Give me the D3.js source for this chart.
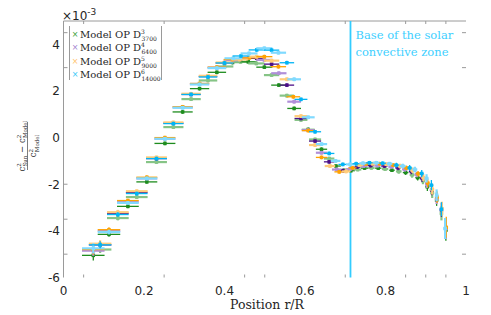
<!DOCTYPE html>
<html>
<head>
<meta charset="utf-8">
<script src="https://cdn.jsdelivr.net/npm/d3@7"></script>
<style>
  body { margin: 0; background: #fff; }
  svg { display: block; }
  .serif { font-family: "DejaVu Serif", "Liberation Serif", serif; }
  .sans { font-family: "DejaVu Sans", sans-serif; }
</style>
</head>
<body>
<div id="viz-container"></div>
<script>
let w = 491;
let h = 315;

///////////////////////////////////////////////////////////////////////////
// DATA (r/R positions, relative sound-speed difference in units of 1e-3)

let legendLabels = [
  ["3", "3700"],
  ["4", "6400"],
  ["5", "9000"],
  ["6", "14000"]
];

let lowR = [0.074,0.091,0.113,0.135,0.160,0.182,0.207,0.231,0.252,0.273,0.296,0.317,0.338,0.359,0.381,0.400];

let greenR = lowR.concat([0.420,0.440,0.459,0.479,0.499,0.517,0.535,0.555,0.573,0.590,
  0.608,0.625,0.641,0.660,0.677,0.697,0.714,0.731,0.748,0.765,
  0.782,0.799,0.816,0.833,0.850,0.866,0.880,0.893,0.904,0.916,
  0.927,0.939,0.950]);
let greenY = [-5.05,-4.8,-4.15,-3.45,-2.95,-2.55,-1.9,-1.05,-0.25,0.45,1.1,1.65,2.1,2.45,2.8,3.05,
  3.22,3.25,3.25,3.18,3.02,2.68,2.25,1.8,1.25,0.76,
  0.35,-0.08,-0.5,-0.9,-1.22,-1.39,-1.42,-1.37,-1.31,-1.3,
  -1.31,-1.35,-1.4,-1.45,-1.5,-1.6,-1.72,-1.85,-2.11,-2.37,
  -2.68,-3.25,-3.97];

let purpleR = lowR.concat([0.420,0.440,0.460,0.480,0.499,0.517,0.535,0.555,0.573,0.590,
  0.608,0.625,0.641,0.660,0.679,0.695,0.712,0.729,0.746,0.763,
  0.780,0.797,0.814,0.831,0.848,0.864,0.878,0.891,0.903,0.915,
  0.927,0.939,0.950]);
let purpleY = [-4.85,-4.6,-4.0,-3.25,-2.75,-2.35,-1.75,-0.9,-0.05,0.62,1.3,1.85,2.3,2.62,3.0,3.2,
  3.32,3.38,3.42,3.4,3.33,3.15,2.76,2.25,1.54,0.82,
  0.32,-0.15,-0.65,-1.04,-1.37,-1.42,-1.35,-1.27,-1.22,-1.2,
  -1.2,-1.22,-1.25,-1.3,-1.36,-1.45,-1.58,-1.75,-1.98,-2.25,
  -2.6,-3.1,-3.9];

let orangeR = lowR.concat([0.420,0.438,0.462,0.480,0.499,0.517,0.534,0.555,0.571,0.590,
  0.608,0.625,0.641,0.662,0.685,0.702,0.718,0.735,0.752,0.768,
  0.785,0.802,0.819,0.836,0.852,0.867,0.881,0.894,0.905,0.916,
  0.928,0.940,0.951]);
let orangeY = [-4.8,-4.55,-3.95,-3.2,-2.7,-2.3,-1.7,-0.85,0.0,0.65,1.32,1.88,2.32,2.65,3.02,3.22,
  3.35,3.35,3.42,3.47,3.47,3.3,3.04,2.5,1.75,0.92,
  0.3,-0.32,-0.85,-1.22,-1.47,-1.45,-1.3,-1.18,-1.13,-1.12,
  -1.12,-1.14,-1.18,-1.22,-1.3,-1.4,-1.55,-1.72,-1.95,-2.22,
  -2.55,-3.05,-3.85];

let cyanR = lowR.concat([0.422,0.441,0.461,0.480,0.499,0.517,0.534,0.555,0.573,0.590,
  0.608,0.625,0.641,0.660,0.676,0.694,0.712,0.727,0.744,0.760,
  0.777,0.793,0.810,0.827,0.843,0.860,0.873,0.890,0.902,0.914,
  0.927,0.939,0.948]);
let cyanY = [-4.75,-4.6,-4.05,-3.3,-2.8,-2.4,-1.75,-0.9,-0.05,0.6,1.28,1.85,2.28,2.6,2.98,3.2,
  3.4,3.5,3.61,3.76,3.83,3.75,3.64,3.21,2.5,1.64,
  0.87,0.25,-0.28,-0.68,-1.0,-1.15,-1.15,-1.12,-1.1,-1.08,
  -1.08,-1.1,-1.12,-1.18,-1.22,-1.3,-1.37,-1.54,-1.75,-2.04,
  -2.47,-3.07,-3.9];

// half widths of the error bars (same for each model)
let rErr = [0.028,0.028,0.028,0.027,0.027,0.027,0.026,0.026,0.026,0.025,0.025,0.024,0.024,0.023,0.023,0.022,
  0.022,0.021,0.021,0.020,0.020,0.019,0.019,0.018,0.017,0.016,
  0.016,0.015,0.014,0.013,0.012,0.011,0.010,0.009,0.009,0.008,
  0.008,0.008,0.007,0.007,0.007,0.006,0.006,0.005,0.005,0.005,
  0.004,0.004,0.004];
let yErr = [0.22,0.15,0.1,0.1,0.08,0.08,0.08,0.08,0.08,0.08,0.08,0.08,0.08,0.08,0.08,0.08,
  0.08,0.08,0.08,0.08,0.08,0.08,0.08,0.08,0.08,0.08,
  0.08,0.08,0.08,0.08,0.08,0.08,0.08,0.08,0.08,0.08,
  0.08,0.08,0.08,0.1,0.1,0.12,0.12,0.15,0.18,0.22,
  0.25,0.3,0.45];

let xTickLabels = [0, 0.2, 0.4, 0.6, 0.8, 1];
let yTickLabels = [-6, -4, -2, 0, 2, 4];
let xMinor = [0.05, 0.25, 0.45, 0.5, 0.7, 0.85, 0.9, 0.95];
let yMinor = [-5, -3.5, -2, 3, 4.5];
let baseCZ = 0.713;

///////////////////////////////////////////////////////////////////////////
// SVG + SCALES

let viz = d3.select("#viz-container")
  .append("svg")
    .attr("width", w)
    .attr("height", h)
;

let plotLeft = 63.5, plotRight = 466, plotTop = 21, plotBottom = 277.5;

let xScale = d3.scaleLinear().domain([0, 1]).range([plotLeft, plotRight]);
let yScale = d3.scaleLinear().domain([-6, 5]).range([plotBottom, plotTop]);

///////////////////////////////////////////////////////////////////////////
// AXES (left + top lines only, ticks inside)

viz.append("line")
  .attr("x1", plotLeft).attr("x2", plotLeft)
  .attr("y1", plotTop).attr("y2", plotBottom)
  .attr("stroke", "#9a9a9a")
;
viz.append("line")
  .attr("x1", plotLeft).attr("x2", plotRight)
  .attr("y1", plotTop).attr("y2", plotTop)
  .attr("stroke", "#9a9a9a")
;

viz.selectAll(".xtickB").data(xMinor).enter()
  .append("line")
    .attr("x1", d => xScale(d)).attr("x2", d => xScale(d))
    .attr("y1", plotBottom).attr("y2", plotBottom - 3)
    .attr("stroke", "#9a9a9a")
;
viz.selectAll(".xtickT").data(xMinor).enter()
  .append("line")
    .attr("x1", d => xScale(d)).attr("x2", d => xScale(d))
    .attr("y1", plotTop).attr("y2", plotTop + 3)
    .attr("stroke", "#9a9a9a")
;
viz.selectAll(".ytickL").data(yMinor).enter()
  .append("line")
    .attr("x1", plotLeft).attr("x2", plotLeft + 4)
    .attr("y1", d => yScale(d)).attr("y2", d => yScale(d))
    .attr("stroke", "#9a9a9a")
;
viz.selectAll(".ytickR").data(yMinor).enter()
  .append("line")
    .attr("x1", plotRight).attr("x2", plotRight - 4)
    .attr("y1", d => yScale(d)).attr("y2", d => yScale(d))
    .attr("stroke", "#9a9a9a")
;

viz.selectAll(".xlab").data(xTickLabels).enter()
  .append("text")
    .attr("class", "sans")
    .attr("x", d => xScale(d))
    .attr("y", 295)
    .attr("text-anchor", "middle")
    .attr("font-size", 12)
    .attr("fill", "#262626")
    .text(d => d)
;
viz.selectAll(".ylab").data(yTickLabels).enter()
  .append("text")
    .attr("class", "sans")
    .attr("x", 60)
    .attr("y", d => yScale(d) + 4.5)
    .attr("text-anchor", "end")
    .attr("font-size", 12)
    .attr("fill", "#262626")
    .text(d => d)
;

// x10^-3 exponent
let expo = viz.append("text")
  .attr("class", "sans")
  .attr("x", 62)
  .attr("y", 20)
  .attr("font-size", 12)
  .attr("fill", "#262626")
;
expo.append("tspan").text("\u00d710");
expo.append("tspan").attr("dy", -5).attr("font-size", 9).text("-3");

// axis titles
viz.append("text")
  .attr("class", "serif")
  .attr("x", 267)
  .attr("y", 309)
  .attr("text-anchor", "middle")
  .attr("font-size", 12.5)
  .attr("fill", "#262626")
  .text("Position r/R")
;

let yTitle = viz.append("g")
  .attr("class", "serif")
  .attr("transform", "translate(27.5,146) rotate(-90)")
;
let num = yTitle.append("text")
  .attr("x", 0).attr("y", -3)
  .attr("text-anchor", "middle")
  .attr("font-size", 8.5)
  .attr("fill", "#262626")
;
num.append("tspan").text("c");
num.append("tspan").attr("font-size", 5.5).attr("dy", -3.5).text("2");
num.append("tspan").attr("font-size", 5.5).attr("dx", -3.3).attr("dy", 6).text("Sun");
num.append("tspan").attr("dy", -2.5).text(" \u2212 c");
num.append("tspan").attr("font-size", 5.5).attr("dy", -3.5).text("2");
num.append("tspan").attr("font-size", 5.5).attr("dx", -3.3).attr("dy", 6).text("Model");
yTitle.append("line")
  .attr("x1", -24).attr("x2", 24)
  .attr("y1", 0).attr("y2", 0)
  .attr("stroke", "#262626")
  .attr("stroke-width", 0.6)
;
let den = yTitle.append("text")
  .attr("x", 0).attr("y", 8.5)
  .attr("text-anchor", "middle")
  .attr("font-size", 8.5)
  .attr("fill", "#262626")
;
den.append("tspan").text("c");
den.append("tspan").attr("font-size", 5.5).attr("dy", -3.5).text("2");
den.append("tspan").attr("font-size", 5.5).attr("dx", -3.3).attr("dy", 6).text("Model");

///////////////////////////////////////////////////////////////////////////
// BASE OF THE CONVECTIVE ZONE

viz.append("line")
  .attr("x1", xScale(baseCZ)).attr("x2", xScale(baseCZ))
  .attr("y1", plotTop).attr("y2", plotBottom)
  .attr("stroke", "#33ccff")
  .attr("stroke-width", 1.8)
;
viz.append("text")
  .attr("class", "serif")
  .attr("x", xScale(baseCZ) + 5)
  .attr("y", 39)
  .attr("font-size", 11.5)
  .attr("fill", "#40cfff")
  .text("Base of the solar")
;
viz.append("text")
  .attr("class", "serif")
  .attr("x", xScale(baseCZ) + 5)
  .attr("y", 56)
  .attr("font-size", 11.5)
  .attr("fill", "#40cfff")
  .text("convective zone")
;

///////////////////////////////////////////////////////////////////////////
// DATA POINTS (each model has a dark and a light shade)

let models = [
  { r: greenR,  y: greenY,  dark: "#1e8c1e", light: "#86c486", legend: "#3aa03a" },
  { r: purpleR, y: purpleY, dark: "#4b0f86", light: "#b08fd8", legend: "#a283cf" },
  { r: orangeR, y: orangeY, dark: "#ffa200", light: "#ffcc7a", legend: "#ffc36a" },
  { r: cyanR,   y: cyanY,   dark: "#00b4f5", light: "#80daff", legend: "#36c8f8" }
];

models.forEach(function(m, k){
  let pts = m.r.map(function(r, i){
    return { r: r, y: m.y[i], er: rErr[i], ey: yErr[i], dark: (i + k) % 2 == 0 };
  });

  let g = viz.selectAll(".model" + k).data(pts)
    .enter()
      .append("g")
      .attr("class", "model" + k)
  ;

  g.append("line")
    .attr("x1", d => xScale(d.r - d.er))
    .attr("x2", d => xScale(d.r + d.er))
    .attr("y1", d => yScale(d.y))
    .attr("y2", d => yScale(d.y))
    .attr("stroke", d => d.dark ? m.dark : m.light)
    .attr("stroke-width", d => d.dark ? 1.3 : 2.2)
  ;
  g.append("line")
    .attr("x1", d => xScale(d.r))
    .attr("x2", d => xScale(d.r))
    .attr("y1", d => yScale(d.y - d.ey))
    .attr("y2", d => yScale(d.y + d.ey))
    .attr("stroke", d => d.dark ? m.dark : m.light)
    .attr("stroke-width", d => d.dark ? 1.3 : 2.2)
  ;
  g.append("rect")
    .attr("x", d => xScale(d.r) - 1.75)
    .attr("y", d => yScale(d.y) - 1.75)
    .attr("width", 3.5)
    .attr("height", 3.5)
    .attr("fill", d => d.dark ? m.dark : m.light)
  ;
});

///////////////////////////////////////////////////////////////////////////
// LEGEND

viz.append("rect")
  .attr("x", 69).attr("y", 26)
  .attr("width", 93).attr("height", 54)
  .attr("fill", "white")
  .attr("fill-opacity", 0.6)
  .attr("stroke", "none")
;
viz.append("line").attr("x1", 69.5).attr("x2", 69.5).attr("y1", 26).attr("y2", 80).attr("stroke", "#9a9a9a");
viz.append("line").attr("x1", 161.5).attr("x2", 161.5).attr("y1", 26).attr("y2", 80).attr("stroke", "#9a9a9a");

let leg = viz.selectAll(".legend").data(legendLabels)
  .enter()
    .append("g")
    .attr("class", "legend")
    .attr("transform", (d, i) => "translate(75," + (33.5 + 13.5 * i) + ")")
;
leg.append("text")
  .attr("class", "sans")
  .attr("x", 0).attr("y", 3)
  .attr("text-anchor", "middle")
  .attr("font-size", 8)
  .attr("fill", (d, i) => models[i].legend)
  .text("\u00d7")
;
let legText = leg.append("text")
  .attr("class", "serif")
  .attr("x", 5).attr("y", 4)
  .attr("font-size", 10)
  .attr("fill", "#262626")
;
legText.append("tspan").text("Model OP D");
legText.append("tspan").attr("font-size", 6).attr("dy", -4).text(d => d[0]);
legText.append("tspan").attr("font-size", 6).attr("dx", -3.4).attr("dy", 7).text(d => d[1]);
</script>
</body>
</html>
